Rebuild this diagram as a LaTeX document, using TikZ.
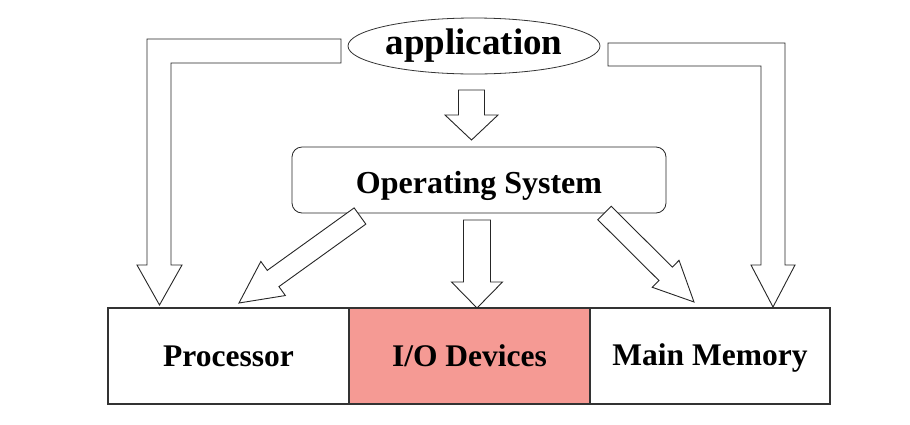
\documentclass[tikz,border=0pt]{standalone}
\usepackage{fontspec}
\setmainfont{Liberation Serif}
\usetikzlibrary{calc,positioning,shapes.geometric}

\definecolor{iored}{RGB}{245,154,148}
\tikzset{
	blockarrow/.style={draw=black!85, line width=0.9pt, fill=white, line join=miter},
	layerbox/.style={draw=black!80, line width=1.1pt, minimum width=241pt, minimum height=96pt, inner sep=0pt, outer sep=0pt},
	lbl/.style={font=\fontsize{31.5}{36}\selectfont\bfseries}
}
% hollow straight arrow: tail, tip, shaft half width, head half width, head length
\newcommand{\hollowarrow}[5]{%
	\coordinate (hb) at ($(#2)!#5!(#1)$);
	\draw[blockarrow] ($(#1)!#3!90:(#2)$) -- ($(hb)!#3!90:(#2)$) -- ($(hb)!#4!90:(#2)$) -- (#2)
	-- ($(hb)!#4!-90:(#2)$) -- ($(hb)!#3!-90:(#2)$) -- ($(#1)!#3!-90:(#2)$) -- cycle;
}

\begin{document}
\begin{tikzpicture}[x=1pt, y=-1pt]
	\useasboundingbox (0,0) rectangle (910,424);

	% Layers at the bottom
	\node[layerbox, lbl] (proc) at (228.5,356) {Processor};
	\node[layerbox, lbl, fill=iored, right=0pt of proc] (io) {I/O Devices};
	\node[layerbox, lbl, minimum width=240pt, right=0pt of io, text height=25pt] (mem) {Main Memory};

	% Application and OS
	\node[ellipse, draw=black!80, line width=0.8pt, minimum width=252pt, minimum height=56pt, inner sep=0pt,
		font=\fontsize{37}{40}\selectfont\bfseries] (app) at (474,46) {application};
	\node[draw=black!85, line width=0.8pt, rounded corners=10pt, minimum width=374pt, minimum height=66pt,
		inner sep=0pt, text height=35pt, font=\fontsize{32}{36}\selectfont\bfseries] (os) at (479,180) {Operating System};

	% Straight arrows
	\coordinate (a1t) at (471.5,90);  \coordinate (a1h) at (471.5,140);
	\coordinate (a2t) at (477,220);   \coordinate (a2h) at (477,308);
	\coordinate (a3t) at (360,216);   \coordinate (a3h) at (239,303);
	\coordinate (a4t) at (604.5,213); \coordinate (a4h) at (694,302);
	\hollowarrow{a1t}{a1h}{13pt}{26.5pt}{25pt}
	\hollowarrow{a2t}{a2h}{13.5pt}{25.5pt}{26pt}
	\hollowarrow{a3t}{a3h}{10pt}{21pt}{42pt}
	\hollowarrow{a4t}{a4h}{9.5pt}{19pt}{40pt}

	% Elbow arrows from the application
	\draw[blockarrow] (341,39) -- (147,39) -- (147,265) -- (137,265) -- (159.5,305) -- (182,265)
		-- (171,265) -- (171,63) -- (341,63) -- cycle;
	\draw[blockarrow] (608,43) -- (785,43) -- (785,265) -- (795,265) -- (773,307) -- (751,265)
		-- (761,265) -- (761,66) -- (608,66) -- cycle;
\end{tikzpicture}
\end{document}
